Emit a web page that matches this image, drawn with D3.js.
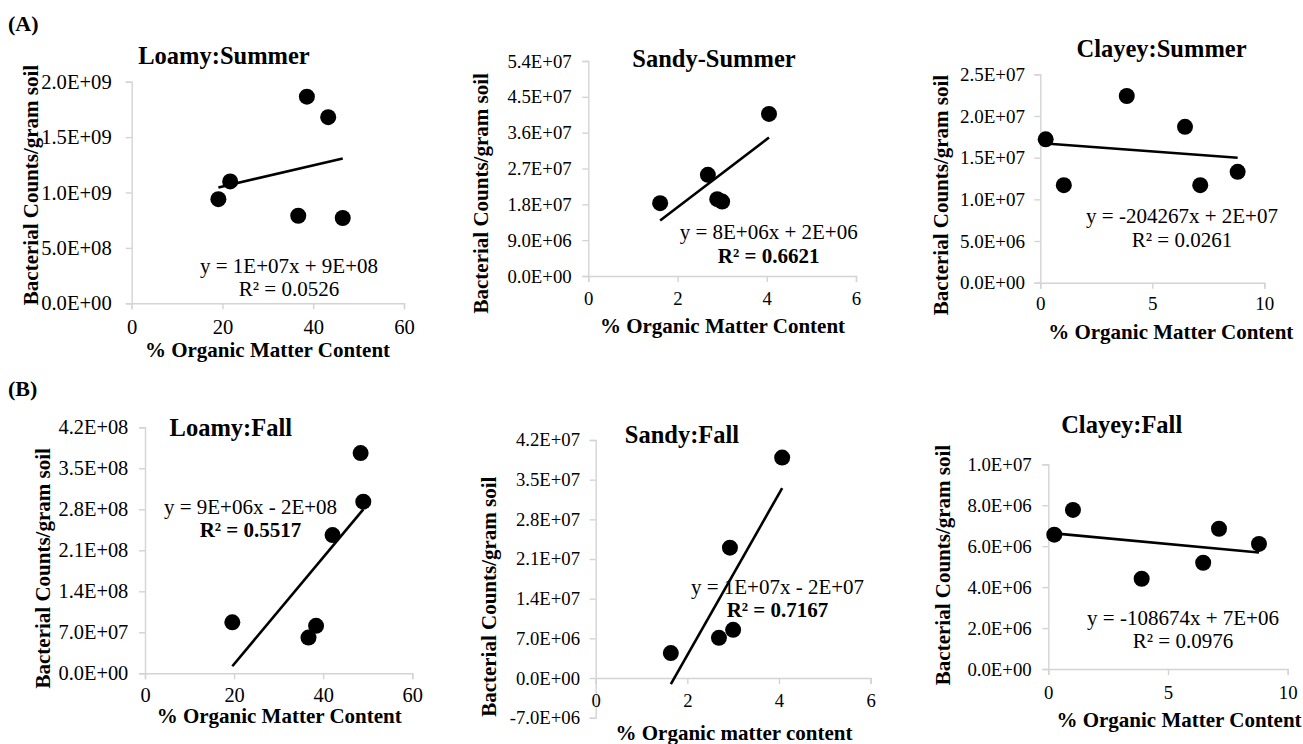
<!DOCTYPE html>
<html><head><meta charset="utf-8">
<script src="https://cdn.jsdelivr.net/npm/d3@7"></script>
<style>
body{margin:0;background:#fff}
svg{display:block}
svg text{font-family:'Liberation Serif','DejaVu Serif',serif;fill:#000}
</style>
</head><body>
<svg id="chart" width="1303" height="744"></svg>
<script>
// ---------------- DATA ----------------
const sectionLabels = ["(A)", "(B)"];
const panelTitles = ["Loamy:Summer", "Sandy-Summer", "Clayey:Summer", "Loamy:Fall", "Sandy:Fall", "Clayey:Fall"];
const xAxisTitles = ["% Organic Matter Content", "% Organic Matter Content", "% Organic Matter Content",
                     "% Organic Matter Content", "% Organic matter content", "% Organic Matter Content"];
const yAxisTitle = "Bacterial Counts/gram soil";

const loamySummerOM     = [19.1, 21.7, 38.6, 43.3, 36.7, 46.5];
const loamySummerCounts = [9.4e8, 1.10e9, 1.865e9, 1.68e9, 7.9e8, 7.7e8];
const sandySummerOM     = [1.61, 2.68, 2.89, 3.00, 4.05];
const sandySummerCounts = [1.83e7, 2.54e7, 1.93e7, 1.87e7, 4.07e7];
const clayeySummerOM     = [0.24, 1.05, 3.86, 6.46, 7.14, 8.81];
const clayeySummerCounts = [1.72e7, 1.17e7, 2.24e7, 1.87e7, 1.17e7, 1.33e7];
const loamyFallOM     = [19.6, 36.7, 38.4, 42.1, 48.4, 49.0];
const loamyFallCounts = [8.7e7, 6.1e7, 8.1e7, 2.36e8, 3.76e8, 2.93e8];
const sandyFallOM     = [1.64, 2.69, 3.00, 2.93, 4.07];
const sandyFallCounts = [4.4e6, 7.1e6, 8.5e6, 2.30e7, 3.89e7];
const clayeyFallOM     = [0.25, 1.03, 3.90, 6.47, 7.13, 8.80];
const clayeyFallCounts = [6.56e6, 7.77e6, 4.41e6, 5.19e6, 6.85e6, 6.11e6];

const loamyXTicks  = [0, 20, 40, 60];
const sandyXTicks  = [0, 2, 4, 6];
const clayeyXTicks = [0, 5, 10];
const loamySummerYTicks  = [0, 5e8, 1e9, 1.5e9, 2e9];
const sandySummerYTicks  = [0, 9e6, 1.8e7, 2.7e7, 3.6e7, 4.5e7, 5.4e7];
const clayeySummerYTicks = [0, 5e6, 1e7, 1.5e7, 2e7, 2.5e7];
const loamyFallYTicks    = [0, 7e7, 1.4e8, 2.1e8, 2.8e8, 3.5e8, 4.2e8];
const sandyFallYTicks    = [-7e6, 0, 7e6, 1.4e7, 2.1e7, 2.8e7, 3.5e7, 4.2e7];
const clayeyFallYTicks   = [0, 2e6, 4e6, 6e6, 8e6, 1e7];

const equationTexts = ["y = 1E+07x + 9E+08", "y = 8E+06x + 2E+06", "y = -204267x + 2E+07",
                       "y = 9E+06x - 2E+08", "y = 1E+07x - 2E+07", "y = -108674x + 7E+06"];
const r2Texts = ["R² = 0.0526", "R² = 0.6621", "R² = 0.0261", "R² = 0.5517", "R² = 0.7167", "R² = 0.0976"];
const r2Bold  = [false, true, false, true, true, false];

// ---------------- LAYOUT ----------------
const FONT = "'Liberation Serif','DejaVu Serif',serif";
const layouts = [
  {xl:131.7, xr:404,   yt:81.7,  yb:303.3, tfs:20.6, yGap:20,   xDy:31,   tX:224,    tY:64,    eX:289,  eY:272.7, xlX:267.5, xlY:356.7, ylX:38,  ylY:185},
  {xl:588.3, xr:856,   yt:61,    yb:276,   tfs:18.8, yGap:16.6, xDy:28.5, tX:714,    tY:66.7,  eX:768.7,eY:239.3, xlX:722.5, xlY:333.3, ylX:488, ylY:193.3},
  {xl:1040.3,xr:1264.3,yt:74.3,  yb:282.7, tfs:19,   yGap:15.3, xDy:27,   tX:1161.5, tY:57.3,  eX:1182, eY:223.3, xlX:1170.8,xlY:339.3, ylX:948, ylY:195},
  {xl:145,   xr:412.3, yt:427.3, yb:673.3, tfs:20.4, yGap:16.7, xDy:28.5, tX:230.8,  tY:435.7, eX:250.5,eY:514,   xlX:279.2, xlY:723.3, ylX:49.5,ylY:568.3},
  {xl:595.7, xr:870.6, yt:440,   yb:717.7, tfs:18.7, yGap:15.7, xDy:29,   tX:682,    tY:443.3, eX:777.5,eY:594,   xlX:734,   xlY:740,   ylX:496, ylY:596.7},
  {xl:1048.3,xr:1287.7,yt:464.3, yb:669,   tfs:18.8, yGap:16.6, xDy:29.5, tX:1121.7, tY:432.7, eX:1183, eY:625,   xlX:1179,  xlY:726.7, ylX:950, ylY:565}
];

const panels = [
  {om: loamySummerOM,  counts: loamySummerCounts,  xTicks: loamyXTicks,  yTicks: loamySummerYTicks},
  {om: sandySummerOM,  counts: sandySummerCounts,  xTicks: sandyXTicks,  yTicks: sandySummerYTicks},
  {om: clayeySummerOM, counts: clayeySummerCounts, xTicks: clayeyXTicks, yTicks: clayeySummerYTicks},
  {om: loamyFallOM,    counts: loamyFallCounts,    xTicks: loamyXTicks,  yTicks: loamyFallYTicks},
  {om: sandyFallOM,    counts: sandyFallCounts,    xTicks: sandyXTicks,  yTicks: sandyFallYTicks},
  {om: clayeyFallOM,   counts: clayeyFallCounts,   xTicks: clayeyXTicks, yTicks: clayeyFallYTicks}
];

// ---------------- HELPERS ----------------
function sci(v) {
  const s = v.toExponential(1);
  const m = s.match(/^(-?[\d.]+)e([+-])(\d+)$/);
  return m[1] + "E" + m[2] + m[3].padStart(2, "0");
}
function linearFit(xs, ys) {
  const n = xs.length, mx = d3.mean(xs), my = d3.mean(ys);
  let sxy = 0, sxx = 0;
  for (let i = 0; i < n; i++) { sxy += (xs[i]-mx)*(ys[i]-my); sxx += (xs[i]-mx)*(xs[i]-mx); }
  const b = sxy / sxx;
  return {slope: b, intercept: my - b*mx};
}

const svg = d3.select("#chart").attr("font-family", FONT);
const AXIS = "#d4d4d4";

svg.append("text").attr("x", 8).attr("y", 31).attr("font-size", 22).attr("font-weight", "bold").attr("font-family", FONT).text(sectionLabels[0]);
svg.append("text").attr("x", 8).attr("y", 396).attr("font-size", 22).attr("font-weight", "bold").attr("font-family", FONT).text(sectionLabels[1]);

panels.forEach((p, i) => {
  const L = layouts[i];
  const g = svg.append("g").attr("font-family", FONT);
  const x = d3.scaleLinear().domain(d3.extent(p.xTicks)).range([L.xl, L.xr]);
  const y = d3.scaleLinear().domain(d3.extent(p.yTicks)).range([L.yb, L.yt]);

  const yAx = d3.axisLeft(y).tickValues(p.yTicks).tickFormat(sci).tickSize(6).tickPadding(L.yGap - 6);
  const yg = g.append("g").attr("transform", `translate(${L.xl},0)`).call(yAx).attr("font-family", FONT);
  yg.select(".domain").attr("stroke", AXIS).attr("stroke-width", 1.4);
  yg.selectAll(".tick line").attr("stroke", AXIS).attr("stroke-width", 1.4);
  yg.selectAll(".tick text").attr("font-size", L.tfs).attr("fill", "#000").attr("font-family", FONT);

  const xAx = d3.axisBottom(x).tickValues(p.xTicks).tickFormat(d3.format("d")).tickSize(6).tickPadding(0);
  const xg = g.append("g").attr("transform", `translate(0,${y(0)})`).call(xAx).attr("font-family", FONT);
  xg.select(".domain").attr("stroke", AXIS).attr("stroke-width", 1.4);
  xg.selectAll(".tick line").attr("stroke", AXIS).attr("stroke-width", 1.4);
  xg.selectAll(".tick text").attr("font-size", L.tfs).attr("fill", "#000").attr("font-family", FONT)
    .attr("y", L.xDy).attr("dy", null);

  const fit = linearFit(p.om, p.counts);
  const [x0, x1] = d3.extent(p.om);
  g.append("line")
    .attr("x1", x(x0)).attr("y1", y(fit.intercept + fit.slope*x0))
    .attr("x2", x(x1)).attr("y2", y(fit.intercept + fit.slope*x1))
    .attr("stroke", "#000").attr("stroke-width", 2.6);

  g.selectAll("circle").data(p.om.map((v, k) => [v, p.counts[k]])).join("circle")
    .attr("cx", d => x(d[0])).attr("cy", d => y(d[1])).attr("r", 8).attr("fill", "#000");

  g.append("text").attr("x", L.tX).attr("y", L.tY).attr("text-anchor", "middle")
    .attr("font-size", 24.5).attr("font-weight", "bold").text(panelTitles[i]);

  g.append("text").attr("x", L.eX).attr("y", L.eY).attr("text-anchor", "middle")
    .attr("font-size", 21).text(equationTexts[i]);
  g.append("text").attr("x", L.eX).attr("y", L.eY + 23.2).attr("text-anchor", "middle")
    .attr("font-size", 21).attr("font-weight", r2Bold[i] ? "bold" : "normal").text(r2Texts[i]);

  g.append("text").attr("x", L.xlX).attr("y", L.xlY).attr("text-anchor", "middle")
    .attr("font-size", 21).attr("font-weight", "bold").text(xAxisTitles[i]);
  g.append("text").attr("transform", `translate(${L.ylX},${L.ylY}) rotate(-90)`).attr("text-anchor", "middle")
    .attr("font-size", 21).attr("font-weight", "bold").text(yAxisTitle);
});
</script>
</body></html>
